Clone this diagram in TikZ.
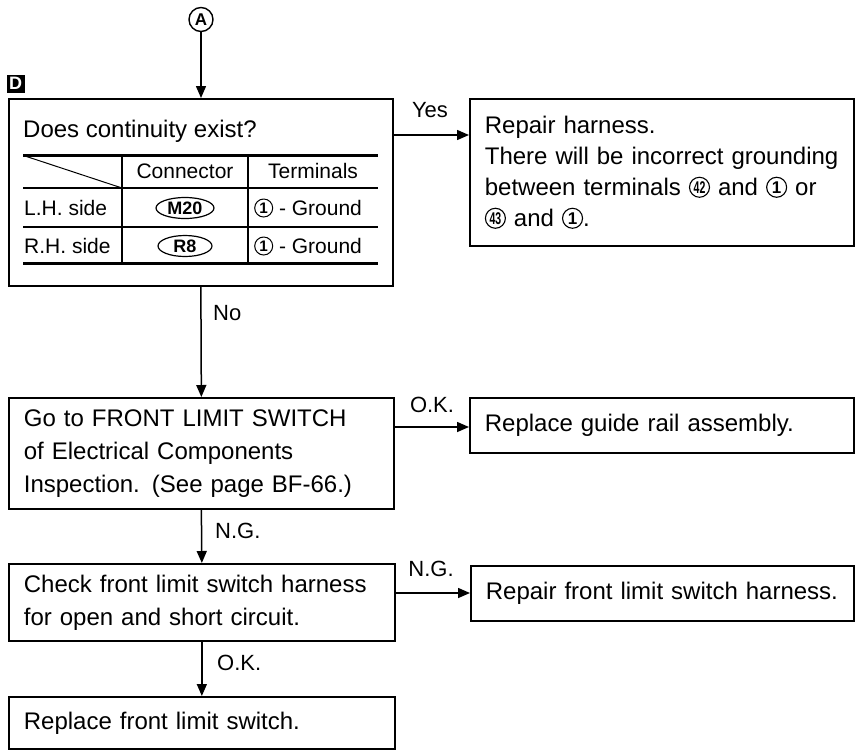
\documentclass[tikz,border=0pt]{standalone}
\usepackage{fontspec}
\setmainfont{Liberation Sans}
\usepackage{graphicx}
\usetikzlibrary{arrows.meta,shapes.geometric}
\newcommand\cnum[2][1]{\raisebox{8pt}{\tikz[baseline=(cn.center)]\node[draw,circle,line width=1.1pt,minimum size=20pt,inner sep=0pt,font=\bfseries\fontsize{17}{17}\selectfont](cn){\scalebox{#1}[1]{#2}};}}
\tikzset{
  box/.style={draw,line width=1.7pt,anchor=north west,inner xsep=15pt,inner ysep=0pt,align=left,font=\fontsize{24}{33}\selectfont},
  lbl/.style={font=\fontsize{22}{22}\selectfont,inner sep=0pt},
  tbl/.style={font=\fontsize{21}{21}\selectfont,inner sep=0pt},
  arr/.style={line width=1.5pt,-{Triangle[length=12pt,width=10pt]}},
  thick rule/.style={line width=3pt},
  thin rule/.style={line width=1.3pt},
  oval/.style={draw,ellipse,line width=1.2pt,inner sep=0pt,minimum height=21pt,font=\bfseries\fontsize{18}{18}\selectfont}
}
\begin{document}
\begin{tikzpicture}[x=1pt,y=-1pt]
\useasboundingbox (0,0) rectangle (859,750);
% entry point
\node[draw,circle,line width=1.4pt,minimum size=24pt,inner sep=0pt,font=\bfseries\fontsize{17}{17}\selectfont] (A) at (201,19.5) {A};
\node[fill=black,text=white,minimum size=18pt,inner sep=0pt,font=\bfseries\fontsize{18}{18}\selectfont] (D) at (15.5,83.5) {D};
% box 1
\node[box,minimum width=384pt,minimum height=187pt] (q) at (8,98) {};
\node[font=\fontsize{24}{24}\selectfont,inner sep=0pt,anchor=base west] (qt) at (23,137) {Does continuity exist?};
\coordinate (tTL) at (23,155);
\coordinate (tTR) at (378,155);
\draw[thick rule] (tTL) -- (tTR);
\draw[thin rule] (23,188) -- (378,188);
\draw[thin rule] (23,227) -- (378,227);
\draw[thick rule] (23,263) -- (378,263);
\draw[thin rule] (122,155) -- (122,263);
\draw[thin rule] (248,155) -- (248,263);
\draw[line width=1pt] (25,156) -- (122,188);
\node[tbl] (h1) at (185,171) {Connector};
\node[tbl] (h2) at (313,171) {Terminals};
\node[tbl,anchor=west] (l1) at (24,208) {L.H. side};
\node[tbl,anchor=west] (l2) at (24,246) {R.H. side};
\node[oval,minimum width=58pt] (m20) at (185,208) {M20};
\node[oval,minimum width=54pt] (r8) at (185,246) {R8};
\node[tbl,anchor=west] (g1) at (254,208) {\scalebox{0.9}{\cnum{1}} - Ground};
\node[tbl,anchor=west] (g2) at (254,246) {\scalebox{0.9}{\cnum{1}} - Ground};
% repair harness
\node[box,minimum width=384pt,minimum height=147pt,text width=354pt,font=\fontsize{24}{31}\selectfont] (rep) at (469,98)
 {Repair harness.\\There will be incorrect grounding\\between terminals \cnum[0.62]{42} and \cnum{1} or\\\cnum[0.62]{43} and \cnum{1}.};
% box 2
\node[box,minimum width=385pt,minimum height=111pt,text width=355pt] (b2) at (8,397)
 {Go to FRONT LIMIT SWITCH\\of Electrical Components\\Inspection. (See page BF-66.)};
\node[box,minimum width=384pt,minimum height=55pt,text width=354pt] (g) at (469,397) {Replace guide rail assembly.};
% box 3
\node[box,minimum width=386pt,minimum height=77pt,text width=356pt] (b3) at (8,563)
 {Check front limit switch harness\\for open and short circuit.};
\node[box,minimum width=383pt,minimum height=55pt,text width=353pt] (rf) at (470,565) {Repair front limit switch harness.};
% box 4
\node[box,minimum width=386pt,minimum height=52pt,text width=356pt] (b4) at (8,696) {Replace front limit switch.};
% connectors
\draw[arr] (A) -- (A |- q.north);
\coordinate (yesA) at ([yshift=-37pt]q.north east);
\draw[arr] (yesA) -- (yesA -| rep.west);
\draw[arr] (q.south) -- (b2.north);
\coordinate (okA) at ([yshift=-30pt]b2.north east);
\draw[arr] (okA) -- (okA -| g.west);
\draw[arr] (b2.south) -- (b3.north);
\coordinate (ngA) at ([yshift=-30pt]b3.north east);
\draw[arr] (ngA) -- (ngA -| rf.west);
\draw[arr] (b3.south) -- (b4.north);
% labels
\node[lbl,anchor=base] (yes) at (430,117) {Yes};
\node[lbl,anchor=base west] (no) at (213,320) {No};
\node[lbl,anchor=base] (ok1) at (432,412) {O.K.};
\node[lbl,anchor=base west] (ng1) at (215,538) {N.G.};
\node[lbl,anchor=base] (ng2) at (431,576) {N.G.};
\node[lbl,anchor=base west] (ok2) at (217,670) {O.K.};
\end{tikzpicture}
\end{document}
